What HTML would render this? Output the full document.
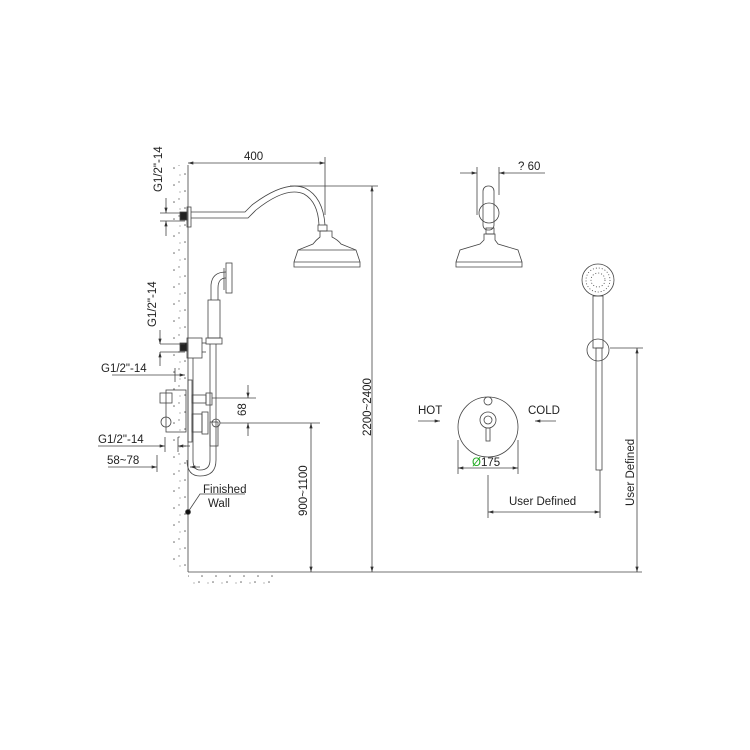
<!DOCTYPE html>
<html><head><meta charset="utf-8"><style>
html,body{margin:0;padding:0;background:#fff}
svg{display:block}
text{font-family:"Liberation Sans",sans-serif;font-size:11.5px;fill:#222}
</style></head><body>
<svg width="750" height="750" viewBox="0 0 750 750" xmlns="http://www.w3.org/2000/svg">
<defs>
<marker id="a" viewBox="0 0 10 6" refX="10" refY="3" markerWidth="8" markerHeight="4" orient="auto-start-reverse"><path d="M0,0L10,3L0,6z" fill="#333"/></marker>
<pattern id="sp" width="14" height="17" patternUnits="userSpaceOnUse"><circle cx="3" cy="4" r="0.8" fill="#666"/><circle cx="11" cy="12" r="0.7" fill="#777"/><circle cx="6" cy="15" r="0.8" fill="#666"/><circle cx="12" cy="5" r="0.6" fill="#888"/></pattern>
</defs>
<g stroke="#444" stroke-width="0.8" fill="none">
<rect x="172" y="165" width="15" height="407" fill="url(#sp)" stroke="none"/>
<rect x="188" y="574" width="85" height="10" fill="url(#sp)" stroke="none"/>
<line x1="188" y1="165" x2="188" y2="572"/>
<line x1="188" y1="572" x2="642" y2="572"/>
<line x1="188" y1="163" x2="325" y2="163" marker-start="url(#a)" marker-end="url(#a)"/>
<line x1="325" y1="157" x2="325" y2="215"/>
<line x1="160" y1="213" x2="185" y2="213"/><line x1="160" y1="221" x2="185" y2="221"/>
<line x1="166" y1="198" x2="166" y2="213" marker-end="url(#a)"/><line x1="166" y1="236" x2="166" y2="221" marker-end="url(#a)"/>
<rect x="180" y="212" width="7" height="8" fill="#222"/>
<rect x="187" y="207" width="4" height="20"/>
<path d="M191,212 L245,212 L252,205 Q285,180 305,188 Q323,197 325,225"/>
<path d="M191,218 L248,218 L256,210 Q286,186 304,194 Q318,202 319,225"/>
<rect x="318" y="225" width="9" height="6"/>
<path d="M320,231 L320,237 Q316,240 313,244 L298,250 L294,262 L294,267 L360,267 L360,262 L356,250 L341,244 Q338,240 332,237 L332,231z"/>
<line x1="294" y1="262" x2="360" y2="262"/><line x1="298" y1="250" x2="356" y2="250"/>
<line x1="290" y1="186" x2="378" y2="186"/>
<line x1="372" y1="186" x2="372" y2="572" marker-start="url(#a)" marker-end="url(#a)"/>
<rect x="226" y="263" width="6" height="30"/><line x1="224" y1="268" x2="224" y2="290"/>
<path d="M226,272 Q212,272 211,285 L211,300 M226,278 Q218,278 218,288 L218,300"/>
<rect x="208" y="300" width="12" height="38"/>
<rect x="206" y="338" width="16" height="6"/>
<rect x="180" y="343" width="7" height="8" fill="#222"/>
<rect x="187" y="338" width="15" height="20"/>
<line x1="202" y1="343" x2="206" y2="343"/><line x1="202" y1="352" x2="206" y2="352"/>
<line x1="210" y1="344" x2="210" y2="460"/><line x1="216" y1="344" x2="216" y2="460"/>
<path d="M210,460 Q210,470 200,470 Q193,470 193,460 L193,358 M216,460 Q216,476 200,476 Q187,476 187,460"/>
<rect x="210" y="422" width="8" height="24"/>
<line x1="160" y1="344" x2="185" y2="344"/><line x1="160" y1="352" x2="185" y2="352"/>
<line x1="160" y1="330" x2="160" y2="344" marker-end="url(#a)"/><line x1="160" y1="366" x2="160" y2="352" marker-end="url(#a)"/>
<line x1="112" y1="375" x2="185" y2="375" marker-end="url(#a)"/><line x1="175" y1="368" x2="175" y2="382"/>
<rect x="166" y="390" width="20" height="42"/>
<rect x="160" y="393" width="12" height="10"/><circle cx="166" cy="422" r="5"/>
<rect x="188" y="380" width="4" height="62"/>
<rect x="192" y="395" width="14" height="8"/><rect x="206" y="393" width="6" height="12"/>
<rect x="192" y="414" width="10" height="18"/><rect x="202" y="412" width="6" height="22"/>
<circle cx="216" cy="423" r="4"/>
<line x1="212" y1="398" x2="256" y2="398"/><line x1="220" y1="423" x2="320" y2="423"/>
<line x1="248" y1="385" x2="248" y2="398" marker-end="url(#a)"/><line x1="248" y1="436" x2="248" y2="423" marker-end="url(#a)"/>
<line x1="311" y1="423" x2="311" y2="572" marker-start="url(#a)" marker-end="url(#a)"/>
<line x1="98" y1="446" x2="165" y2="446" marker-end="url(#a)"/><line x1="190" y1="446" x2="178" y2="446" marker-end="url(#a)"/>
<line x1="165" y1="437" x2="165" y2="452"/><line x1="178" y1="437" x2="178" y2="452"/>
<line x1="108" y1="467" x2="157" y2="467" marker-end="url(#a)"/><line x1="200" y1="467" x2="190" y2="467" marker-end="url(#a)"/>
<line x1="157" y1="455" x2="157" y2="472"/>
<path d="M188,512 L200,494 L245,494"/>
<circle cx="188" cy="512" r="2.5" fill="#111"/>
<line x1="460" y1="173" x2="477" y2="173" marker-end="url(#a)"/><line x1="545" y1="173" x2="499" y2="173" marker-end="url(#a)"/>
<line x1="477" y1="167" x2="477" y2="215"/><line x1="499" y1="167" x2="499" y2="195"/>
<rect x="483" y="186" width="11" height="44" rx="5"/>
<circle cx="489" cy="213" r="10"/>
<rect x="486" y="228" width="8" height="6"/>
<path d="M484,234 L484,240 L480,244 L460,250 L456,262 L456,267 L522,267 L522,262 L518,250 L498,244 L495,240 L495,234z"/>
<line x1="456" y1="262" x2="522" y2="262"/>
<circle cx="598" cy="280" r="16"/>
<circle cx="598" cy="280" r="12" stroke-dasharray="1 2"/>
<circle cx="598" cy="280" r="7" stroke-dasharray="1 2"/>
<rect x="593" y="296" width="10" height="52"/>
<circle cx="598" cy="350" r="11"/>
<rect x="596" y="348" width="6" height="122"/>
<line x1="610" y1="348" x2="643" y2="348"/>
<line x1="637" y1="348" x2="637" y2="572" marker-start="url(#a)" marker-end="url(#a)"/>
<circle cx="488" cy="427" r="30"/>
<circle cx="488" cy="401" r="4"/>
<circle cx="488" cy="420" r="8"/><circle cx="488" cy="420" r="4"/>
<rect x="486" y="428" width="4" height="13"/>
<line x1="418" y1="421" x2="440" y2="421" marker-end="url(#a)"/>
<line x1="556" y1="421" x2="535" y2="421" marker-end="url(#a)"/>
<line x1="458" y1="468" x2="518" y2="468" marker-start="url(#a)" marker-end="url(#a)"/>
<line x1="458" y1="440" x2="458" y2="474"/><line x1="518" y1="440" x2="518" y2="474"/>
<line x1="488" y1="475" x2="488" y2="518"/><line x1="600" y1="470" x2="600" y2="518"/>
<line x1="488" y1="512" x2="600" y2="512" marker-start="url(#a)" marker-end="url(#a)"/>
</g>
<text x="244" y="160">400</text>
<text transform="translate(162,192) rotate(-90)">G1/2"-14</text>
<text transform="translate(156,327) rotate(-90)">G1/2"-14</text>
<text x="101" y="372">G1/2"-14</text>
<text x="98" y="443">G1/2"-14</text>
<text x="107" y="464">58~78</text>
<text transform="translate(246,416) rotate(-90)">68</text>
<text transform="translate(307,516) rotate(-90)">900~1100</text>
<text transform="translate(371,436) rotate(-90)">2200~2400</text>
<text x="203" y="493">Finished</text>
<text x="208" y="507">Wall</text>
<text x="518" y="170">? 60</text>
<text x="418" y="414">HOT</text>
<text x="528" y="414">COLD</text>
<text x="472" y="466"><tspan fill="#2a2">Ø</tspan>175</text>
<text x="509" y="505">User Defined</text>
<text transform="translate(634,506) rotate(-90)">User Defined</text>
</svg>
</body></html>
